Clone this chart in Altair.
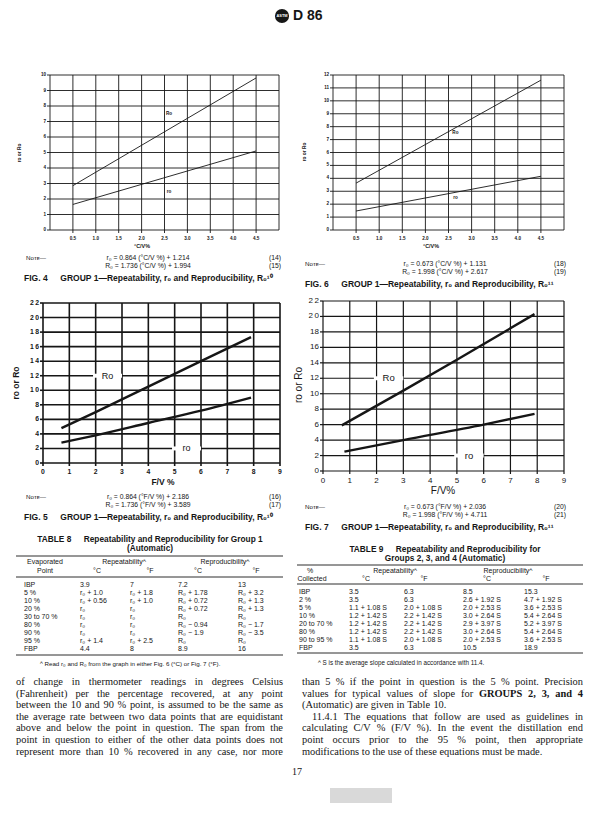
import altair as alt
import pandas as pd

# ------------------------------------------------------------------ DATA
# FIG 4 (deg C), FIG 6 (deg C): end points of the straight lines
F4_X = [0.5, 4.5]
F4_r0 = [1.65, 5.10]
F4_R0 = [2.86, 9.81]
F6_X = [0.5, 4.5]
F6_r0 = [1.47, 4.16]
F6_R0 = [3.63, 11.60]
# FIG 5, FIG 7 (deg F): points
F5_X_r0 = [0.7, 2.0, 4.0, 6.0, 7.9]
F5_r0 = [2.8, 3.8, 5.5, 7.2, 9.0]
F5_X_R0 = [0.7, 2.0, 4.0, 6.0, 7.9]
F5_R0 = [4.8, 7.0, 10.5, 14.0, 17.3]
F7_X_r0 = [0.8, 3.0, 6.0, 7.9]
F7_r0 = [2.5, 4.0, 6.0, 7.4]
F7_X_R0 = [0.7, 3.0, 5.0, 7.9]
F7_R0 = [5.9, 10.4, 14.4, 20.3]

C_XGRID = [0, 0.5, 1.0, 1.5, 2.0, 2.5, 3.0, 3.5, 4.0, 4.5, 5.0]
C_XTICKS = [0.5, 1.0, 1.5, 2.0, 2.5, 3.0, 3.5, 4.0, 4.5]
C_XLABELS = ["0.5", "1.0", "1.5", "2.0", "2.5", "3.0", "3.5", "4.0", "4.5"]
F4_YTICKS = list(range(0, 11))
F4_YLABELS = [str(v) for v in F4_YTICKS]
F6_YTICKS = list(range(0, 13))
F6_YLABELS = [str(v) for v in F6_YTICKS]
F_XTICKS = list(range(0, 10))
F_XLABELS = [str(v) for v in F_XTICKS]
F_YTICKS = list(range(0, 23, 2))
F5_YLABELS = ["0", "2", "4", "6", "8", "1\u20090", "1\u20092", "1\u20094", "1\u20096", "1\u20098", "2\u20090", "2\u20092"]
F7_YLABELS = ["0", "2", "4", "6", "8", "10", "12", "14", "16", "18", "2\u20090", "2\u20092"]

CURVE_NAMES = ["Ro", "ro"]

T8_ROWS = ["IBP", "5 %", "10 %", "20 %", "30 to 70 %", "80 %", "90 %", "95 %", "FBP"]
T8_RC = ["3.9", "r\u2080 + 1.0", "r\u2080 + 0.56", "r\u2080", "r\u2080", "r\u2080", "r\u2080", "r\u2080 + 1.4", "4.4"]
T8_RF = ["7", "r\u2080 + 1.8", "r\u2080 + 1.0", "r\u2080", "r\u2080", "r\u2080", "r\u2080", "r\u2080 + 2.5", "8"]
T8_PC = ["7.2", "R\u2080 + 1.78", "R\u2080 + 0.72", "R\u2080 + 0.72", "R\u2080", "R\u2080 \u2212 0.94", "R\u2080 \u2212 1.9", "R\u2080", "8.9"]
T8_PF = ["13", "R\u2080 + 3.2", "R\u2080 + 1.3", "R\u2080 + 1.3", "R\u2080", "R\u2080 \u2212 1.7", "R\u2080 \u2212 3.5", "R\u2080", "16"]

T9_ROWS = ["IBP", "2 %", "5 %", "10 %", "20 to 70 %", "80 %", "90 to 95 %", "FBP"]
T9_RC = ["3.5", "3.5", "1.1 + 1.08 S", "1.2 + 1.42 S", "1.2 + 1.42 S", "1.2 + 1.42 S", "1.1 + 1.08 S", "3.5"]
T9_RF = ["6.3", "6.3", "2.0 + 1.08 S", "2.2 + 1.42 S", "2.2 + 1.42 S", "2.2 + 1.42 S", "2.0 + 1.08 S", "6.3"]
T9_PC = ["8.5", "2.6 + 1.92 S", "2.0 + 2.53 S", "3.0 + 2.64 S", "2.9 + 3.97 S", "3.0 + 2.64 S", "2.0 + 2.53 S", "10.5"]
T9_PF = ["15.3", "4.7 + 1.92 S", "3.6 + 2.53 S", "5.4 + 2.64 S", "5.2 + 3.97 S", "5.4 + 2.64 S", "3.6 + 2.53 S", "18.9"]

PARA_L = [
    "of change in thermometer readings in degrees Celsius",
    "(Fahrenheit) per the percentage recovered, at any point",
    "between the 10 and 90 % point, is assumed to be the same as",
    "the average rate between two data points that are equidistant",
    "above and below the point in question. The span from the",
    "point in question to either of the other data points does not",
    "represent more than 10 % recovered in any case, nor more",
]
PARA_R = [
    "than 5 % if the point in question is the 5 % point. Precision",
    "values for typical values of slope for *GROUPS *2, *3, *and *4",
    "(Automatic) are given in Table 10.",
    "11.4.1 The equations that follow are used as guidelines in",
    "calculating C/V % (F/V %). In the event the distillation end",
    "point occurs prior to the 95 % point, then appropriate",
    "modifications to the use of these equations must be made.",
]

SP = "\u2003\u2002"
CAPTIONS = [
    "FIG. 4" + SP + "GROUP 1\u2014Repeatability, r\u2080 and Reproducibility, R\u2080\u00b9\u2070",
    "FIG. 6" + SP + "GROUP 1\u2014Repeatability, r\u2080 and Reproducibility, R\u2080\u00b9\u00b9",
    "FIG. 5" + SP + "GROUP 1\u2014Repeatability, r\u2080 and Reproducibility, R\u2080\u00b9\u2070",
    "FIG. 7" + SP + "GROUP 1\u2014Repeatability, r\u2080 and Reproducibility, R\u2080\u00b9\u00b9",
]
EQS = [
    ["r\u2080 = 0.864 (\u00b0C/V %) + 1.214", "R\u2080 = 1.736 (\u00b0C/V %) + 1.994", "(14)", "(15)"],
    ["r\u2080 = 0.673 (\u00b0C/V %) + 1.131", "R\u2080 = 1.998 (\u00b0C/V %) + 2.617", "(18)", "(19)"],
    ["r\u2080 = 0.864 (\u00b0F/V %) + 2.186", "R\u2080 = 1.736 (\u00b0F/V %) + 3.589", "(16)", "(17)"],
    ["r\u2080 = 0.673 (\u00b0F/V %) + 2.036", "R\u2080 = 1.998 (\u00b0F/V %) + 4.711", "(20)", "(21)"],
]

# ------------------------------------------------------------------ LAYOUT / STYLE
W, H = 584, 796
M = 8  # page margin: layout numbers below are page pixels
SANS = "Liberation Sans"
SERIF = "Liberation Serif"
INK = "#161616"


def figure(xdom, ydom, xr, yr, xgrid, ygrid, xticks, xlabels, yticks, ylabels,
           series, labels, grid_w, line_w, tick_size, tick_weight, lab_size,
           lab_weight, xlab_dy, ylab_dx, knockout):
    sx = alt.Scale(domain=xdom, range=[xr[0] - M, xr[1] - M], nice=False, zero=False)
    sy = alt.Scale(domain=ydom, range=[yr[0] - M, yr[1] - M], nice=False, zero=False)

    def X(f):
        return alt.X(f, type="quantitative", scale=sx, axis=None)

    def Y(f):
        return alt.Y(f, type="quantitative", scale=sy, axis=None)

    ppx = (xr[1] - xr[0]) / (xdom[1] - xdom[0])
    ppy = (yr[0] - yr[1]) / (ydom[1] - ydom[0])
    tx, ty = 3.0 / ppx, 3.0 / ppy
    vg = pd.DataFrame({"v": xgrid, "a": ydom[0], "b": ydom[1]})
    hg = pd.DataFrame({"v": ygrid, "a": xdom[0], "b": xdom[1]})
    vt = pd.DataFrame({"v": xticks, "a": ydom[0] - ty, "b": ydom[0]})
    ht = pd.DataFrame({"v": yticks, "a": xdom[0] - tx, "b": xdom[0]})
    xl = pd.DataFrame({"v": xticks, "t": xlabels, "a": ydom[0]})
    yl = pd.DataFrame({"v": yticks, "t": ylabels, "a": xdom[0]})
    rows = []
    for name, xs, ys in series:
        for a, b in zip(xs, ys):
            rows.append({"s": name, "x": a, "y": b})
    sd = pd.DataFrame(rows)
    ld = pd.DataFrame(labels, columns=["t", "x", "y"])
    half = 0.55 * (xdom[1] - xdom[0]) / 9
    ld["a"] = ld["x"] - half
    ld["b"] = ld["x"] + half

    layers = [
        alt.Chart(vg).mark_rule(color=INK, strokeWidth=grid_w).encode(x=X("v"), y=Y("a"), y2="b"),
        alt.Chart(hg).mark_rule(color=INK, strokeWidth=grid_w).encode(y=Y("v"), x=X("a"), x2="b"),
        alt.Chart(vt).mark_rule(color=INK, strokeWidth=grid_w).encode(x=X("v"), y=Y("a"), y2="b"),
        alt.Chart(ht).mark_rule(color=INK, strokeWidth=grid_w).encode(y=Y("v"), x=X("a"), x2="b"),
        alt.Chart(xl).mark_text(font=SANS, fontSize=tick_size, fontWeight=tick_weight, color=INK,
                                baseline="middle", align="center", dy=xlab_dy).encode(
            x=X("v"), y=Y("a"), text="t:N"),
        alt.Chart(yl).mark_text(font=SANS, fontSize=tick_size, fontWeight=tick_weight, color=INK,
                                baseline="middle", align="right", dx=-ylab_dx).encode(
            x=X("a"), y=Y("v"), text="t:N"),
        alt.Chart(sd).mark_line(color=INK, strokeWidth=line_w, interpolate="monotone").encode(
            x=X("x"), y=Y("y"), detail="s:N"),
    ]
    if knockout:
        layers.append(alt.Chart(ld).mark_rule(color="white", strokeWidth=4).encode(
            x=X("a"), x2="b", y=Y("y")))
    layers.append(alt.Chart(ld).mark_text(font=SANS, fontSize=lab_size, fontWeight=lab_weight,
                                          color=INK, baseline="middle").encode(
        x=X("x"), y=Y("y"), text="t:N"))
    return alt.layer(*layers)


fig4 = figure([0, 5], [0, 10], [50, 279], [230, 75], C_XGRID, F4_YTICKS, C_XTICKS, C_XLABELS,
              F4_YTICKS, F4_YLABELS,
              [("R", F4_X, F4_R0), ("r", F4_X, F4_r0)],
              [(CURVE_NAMES[0], 2.6, 7.5), (CURVE_NAMES[1], 2.6, 2.45)],
              0.9, 0.9, 4.6, "bold", 4.6, "bold", 9, 4, False)
fig6 = figure([0, 5], [0, 12], [333, 564], [230, 75], C_XGRID, F6_YTICKS, C_XTICKS, C_XLABELS,
              F6_YTICKS, F6_YLABELS,
              [("R", F6_X, F6_R0), ("r", F6_X, F6_r0)],
              [(CURVE_NAMES[0], 2.65, 7.5), (CURVE_NAMES[1], 2.65, 2.5)],
              0.9, 0.9, 4.6, "bold", 4.6, "bold", 9, 4, False)
fig5 = figure([0, 9], [0, 22], [43, 280], [463, 303], F_XTICKS, F_YTICKS, F_XTICKS, F_XLABELS,
              F_YTICKS, F5_YLABELS,
              [("R", F5_X_R0, F5_R0), ("r", F5_X_r0, F5_r0)],
              [(CURVE_NAMES[0], 2.45, 12), (CURVE_NAMES[1], 5.45, 2)],
              1.6, 2.4, 6.8, "bold", 9, "normal", 9, 4, True)
fig7 = figure([0, 9], [0, 22], [323, 564], [471, 301], F_XTICKS, F_YTICKS, F_XTICKS, F_XLABELS,
              F_YTICKS, F7_YLABELS,
              [("R", F7_X_R0, F7_R0), ("r", F7_X_r0, F7_r0)],
              [(CURVE_NAMES[0], 2.45, 12), (CURVE_NAMES[1], 5.45, 2)],
              1.2, 2.4, 8, "normal", 9.5, "normal", 10, 4, True)


def text_layer(texts, xs, ys, size, weight="normal", align="left", font=SANS,
               style="normal", angle=0, color=INK):
    df = pd.DataFrame({"t": texts, "px": [x - M for x in xs], "py": [y - M for y in ys]})
    return alt.Chart(df).mark_text(font=font, fontSize=size, fontWeight=weight, align=align,
                                   baseline="middle", fontStyle=style, angle=angle,
                                   color=color).encode(
        x=alt.X("px:Q", scale=None, axis=None),
        y=alt.Y("py:Q", scale=None, axis=None),
        text="t:N")


def rule_layer(x1s, x2s, ys, width):
    df = pd.DataFrame({"a": [x - M for x in x1s], "b": [x - M for x in x2s],
                       "py": [y - M for y in ys]})
    return alt.Chart(df).mark_rule(color=INK, strokeWidth=width).encode(
        x=alt.X("a:Q", scale=None, axis=None), x2="b:Q",
        y=alt.Y("py:Q", scale=None, axis=None))


# Times-Roman advance widths (per 1000 em) used to justify the body text
TW = {' ': 250, '%': 833, '(': 333, ')': 333, ',': 250, '.': 250, '/': 278, '-': 333,
      'A': 722, 'B': 667, 'C': 667, 'D': 722, 'E': 611, 'F': 556, 'G': 722, 'H': 722,
      'I': 333, 'J': 389, 'K': 722, 'L': 611, 'M': 889, 'N': 722, 'O': 722, 'P': 556,
      'Q': 722, 'R': 667, 'S': 556, 'T': 611, 'U': 722, 'V': 722, 'W': 944, 'X': 722,
      'Y': 722, 'Z': 611, 'a': 444, 'b': 500, 'c': 444, 'd': 500, 'e': 444, 'f': 333,
      'g': 500, 'h': 500, 'i': 278, 'j': 278, 'k': 500, 'l': 278, 'm': 778, 'n': 500,
      'o': 500, 'p': 500, 'q': 500, 'r': 333, 's': 389, 't': 278, 'u': 500, 'v': 500,
      'w': 722, 'x': 500, 'y': 500, 'z': 444}
TW_BOLD = {'G': 778, 'R': 722, 'O': 778, 'U': 722, 'P': 611, 'S': 556, 'a': 500, 'n': 556,
           'd': 556, ',': 250}


def word_w(w, size, bold):
    tot = 0
    for ch in w:
        if ch.isdigit():
            tot += 500
        elif bold and ch in TW_BOLD:
            tot += TW_BOLD[ch]
        else:
            tot += TW.get(ch, 500)
    return tot * size / 1000.0


def justify(lines, x0s, x1, ys, size, ragged):
    out = []
    for line, x0, y, rag in zip(lines, x0s, ys, ragged):
        words = line.split(" ")
        items = [(w.lstrip("*"), w.startswith("*")) for w in words]
        widths = [word_w(w, size, b) for w, b in items]
        if rag or len(items) < 2:
            gap = 250 * size / 1000.0
        else:
            gap = (x1 - x0 - sum(widths)) / (len(items) - 1)
        x = x0
        for (w, b), wd in zip(items, widths):
            out.append((w, x, y, b))
            x += wd + gap
    return out


layers = [fig4, fig6, fig5, fig7]

# header
HEADER_Y = 16
logo = pd.DataFrame({"px": [282 - M], "py": [HEADER_Y - M]})
layers.append(alt.Chart(logo).mark_point(shape="circle", filled=True, size=200, color=INK, opacity=1).encode(
    x=alt.X("px:Q", scale=None, axis=None), y=alt.Y("py:Q", scale=None, axis=None)))
layers.append(text_layer(["ASTM"], [282], [HEADER_Y], 3.9, "bold", "center", color="white"))
layers.append(text_layer(["D 86"], [293], [HEADER_Y], 14, "bold", "left"))

# axis titles
layers.append(text_layer(["\u00b0C/V%", "\u00b0C/V%"], [142, 431], [246, 246], 5.4, "bold", "center"))
layers.append(text_layer(["ro or Ro", "ro or Ro"], [20, 305], [153, 152], 4.8, "bold", "center", angle=270))
layers.append(text_layer(["F/V %"], [163], [482], 8.5, "bold", "center"))
layers.append(text_layer(["ro or Ro"], [16], [383], 8.5, "bold", "center", angle=270))
layers.append(text_layer(["F/V%"], [443], [491], 10, "normal", "center"))
layers.append(text_layer(["ro or Ro"], [299], [385], 10, "normal", "center", angle=270))

# notes and captions
NOTE_X = [26, 305, 26, 305]
EQ_X = [148, 445, 148, 445]
NUM_X = [281, 566, 281, 566]
NOTE_Y = [258, 264, 497, 507]
CAP_X = [24, 305, 24, 305]
CAP_Y = [278, 284, 517, 527]
for i in range(4):
    y1, y2 = NOTE_Y[i], NOTE_Y[i] + 8
    layers.append(text_layer(["N\u1d0f\u1d1b\u1d07\u2014"], [NOTE_X[i]], [y1], 6.2))
    layers.append(text_layer([EQS[i][0], EQS[i][1]], [EQ_X[i]] * 2, [y1, y2], 6.8, align="center"))
    layers.append(text_layer([EQS[i][2], EQS[i][3]], [NUM_X[i]] * 2, [y1, y2], 6.8, align="right"))
layers.append(text_layer(CAPTIONS, CAP_X, CAP_Y, 8.5, "bold"))

# TABLE 8
layers.append(text_layer(["TABLE 8" + SP + "Repeatability and Reproducibility for Group 1", "(Automatic)"],
                         [150, 150], [540, 549], 8.3, "bold", "center"))
layers.append(rule_layer([16, 16, 16], [283, 283, 283], [556, 577, 655], 0.9))
layers.append(text_layer(["Evaporated", "Repeatability\u1d2c", "Reproducibility\u1d2c",
                          "Point", "\u00b0C", "\u00b0F", "\u00b0C", "\u00b0F"],
                         [45, 124, 225, 45, 97, 150, 198, 256],
                         [562, 562, 562, 571, 571, 571, 571, 571], 7.0, align="center"))
T8_COLX = [24, 80, 130, 178, 238]
T8_ROWY = [585, 593, 601, 609, 617, 625, 633, 641, 649]
t8_txt, t8_x, t8_y = [], [], []
for r in range(len(T8_ROWS)):
    for c, col in enumerate([T8_ROWS, T8_RC, T8_RF, T8_PC, T8_PF]):
        t8_txt.append(col[r]); t8_x.append(T8_COLX[c]); t8_y.append(T8_ROWY[r])
layers.append(text_layer(t8_txt, t8_x, t8_y, 7.0))
layers.append(text_layer(["\u1d2c Read r\u2080 and R\u2080 from the graph in either Fig. 6 (\u00b0C) or Fig. 7 (\u00b0F)."],
                         [40], [664], 6.2))

# TABLE 9
layers.append(text_layer(["TABLE 9" + SP + "Repeatability and Reproducibility for",
                          "Groups 2, 3, and 4 (Automatic)"],
                         [445, 445], [550, 559], 8.3, "bold", "center"))
layers.append(rule_layer([297, 297, 297], [583, 583, 583], [565, 584, 653], 0.9))
layers.append(text_layer(["%", "Repeatability\u1d2c", "Reproducibility\u1d2c",
                          "Collected", "\u00b0C", "\u00b0F", "\u00b0C", "\u00b0F"],
                         [310, 395, 508, 312, 366, 424, 487, 546],
                         [571, 571, 571, 579, 579, 579, 579, 579], 7.0, align="center"))
T9_COLX = [299, 349, 404, 463, 524]
T9_ROWY = [592, 600, 608, 616, 624, 632, 640, 648]
t9_txt, t9_x, t9_y = [], [], []
for r in range(len(T9_ROWS)):
    for c, col in enumerate([T9_ROWS, T9_RC, T9_RF, T9_PC, T9_PF]):
        t9_txt.append(col[r]); t9_x.append(T9_COLX[c]); t9_y.append(T9_ROWY[r])
layers.append(text_layer(t9_txt, t9_x, t9_y, 7.0))
layers.append(text_layer(["\u1d2c S is the average slope calculated in accordance with 11.4."],
                         [318], [663], 6.3))

# body text (justified columns)
BODY = 10.4
PARA_Y = [682 + 11.6 * i for i in range(7)]
words = justify(PARA_L, [16] * 7, 283, PARA_Y, BODY, [False] * 7)
words += justify(PARA_R, [302, 302, 302, 312, 302, 302, 302], 583, PARA_Y, BODY,
                 [False, False, True, False, False, False, True])
reg = [w for w in words if not w[3]]
bld = [w for w in words if w[3]]
layers.append(text_layer([w[0] for w in reg], [w[1] for w in reg], [w[2] for w in reg], BODY, font=SERIF))
layers.append(text_layer([w[0] for w in bld], [w[1] for w in bld], [w[2] for w in bld], BODY, "bold", font=SERIF))
layers.append(text_layer(["17"], [297], [772], 10, align="center", font=SERIF))

# grey blur patch at page foot
patch = pd.DataFrame({"a": [330 - M], "b": [392 - M], "c": [788 - M], "d": [H - 1]})
layers.append(alt.Chart(patch).mark_rect(color="#d9d9d9").encode(
    x=alt.X("a:Q", scale=None, axis=None), x2="b:Q",
    y=alt.Y("c:Q", scale=None, axis=None), y2="d:Q"))

chart = alt.layer(*layers).resolve_scale(x="independent", y="independent").properties(
    width=W, height=H, padding=0
).configure_view(stroke=None)

chart.save("out.html", embed_options={"renderer": "svg", "actions": False})
